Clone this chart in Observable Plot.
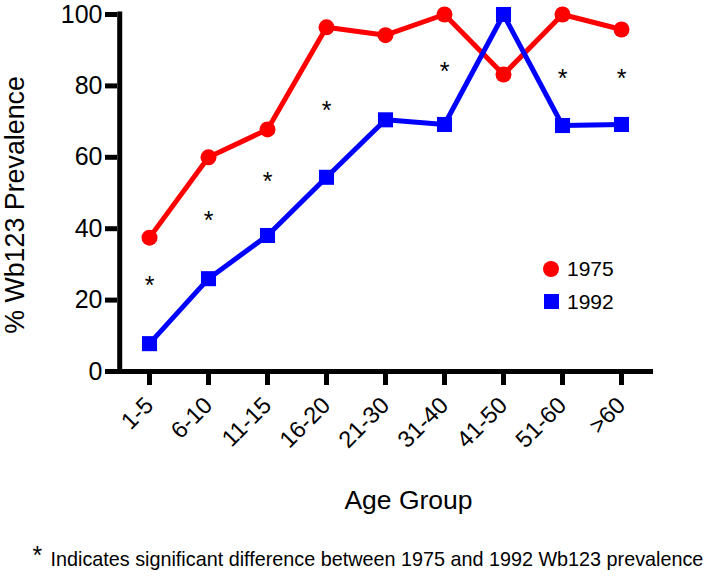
<!DOCTYPE html>
<html>
<head>
<meta charset="utf-8">
<script src="https://cdn.jsdelivr.net/npm/d3@7"></script>
<script src="https://cdn.jsdelivr.net/npm/@observablehq/plot@0.6"></script>
<style>
  html, body { margin: 0; padding: 0; background: #fff; }
  #wrap { position: relative; width: 713px; height: 581px; overflow: hidden; font-family: "Liberation Sans", Arial, Helvetica, sans-serif; }
  #legend { position: absolute; left: 540px; top: 252px; font-size: 21px; color: #000; line-height: 1; }
  #legend .row { display: flex; align-items: center; height: 33px; }
  #legend .sym { width: 22px; display: flex; justify-content: center; margin-right: 5px; }
  #legend .lg-circle { width: 16px; height: 16px; border-radius: 50%; }
  #legend .lg-square { width: 15px; height: 15px; }
</style>
</head>
<body>
<div id="wrap">
  <div id="chart"></div>
  <div id="legend"></div>
</div>
<script>
// ---- data ----
const ageGroups = ["1-5", "6-10", "11-15", "16-20", "21-30", "31-40", "41-50", "51-60", ">60"];
const prev1975 = [37.5, 60, 67.8, 96.4, 94.2, 100, 83.2, 100, 95.8];
const prev1992 = [7.8, 26, 38.1, 54.4, 70.5, 69.2, 100, 68.9, 69.2];
const sigGroups = ["1-5", "6-10", "11-15", "16-20", "31-40", "51-60", ">60"];
const sigLevel = [25.5, 43.7, 54.7, 74.7, 85.5, 83.7, 83.7];
const yTicks = [0, 20, 40, 60, 80, 100];
const seriesNames = ["1975", "1992"];
const seriesColors = ["#ff0000", "#0000ff"];
const yLabel = "% Wb123 Prevalence";
const xLabel = "Age Group";
const footnote = "Indicates significant difference between 1975 and 1992 Wb123 prevalence";

const rows1975 = ageGroups.map((g, i) => ({group: g, value: prev1975[i]}));
const rows1992 = ageGroups.map((g, i) => ({group: g, value: prev1992[i]}));
const sigRows = sigGroups.map((g, i) => ({group: g, value: sigLevel[i]}));

const font = "'Liberation Sans', Arial, Helvetica, sans-serif";
const W = 713, H = 581, mL = 117, mR = 60, mT = 14, mB = 210;
const step = (W - mL - mR) / ageGroups.length; // point-scale step (padding 0.5)

const chart = Plot.plot({
  width: W,
  height: H,
  marginLeft: mL,
  marginRight: mR,
  marginTop: mT,
  marginBottom: mB,
  style: {fontFamily: font, color: "#000", background: "#fff", overflow: "visible"},
  x: {type: "point", domain: ageGroups, padding: 0.5},
  y: {domain: [0, 100]},
  marks: [
    Plot.ruleX([ageGroups[0]], {y1: 0, y2: 100, dx: -step / 2, stroke: "#000", strokeWidth: 5, strokeLinecap: "square"}),
    Plot.ruleY([0], {stroke: "#000", strokeWidth: 5}),
    Plot.axisY({ticks: yTicks, tickSize: 12, strokeWidth: 5, fontSize: 25, tickPadding: 3, label: null}),
    Plot.axisX({tickSize: 14, strokeWidth: 5, tickRotate: -45, fontSize: 23.5, tickPadding: 16, label: null}),
    Plot.text([yLabel], {frameAnchor: "left", textAnchor: "middle", rotate: -90, dx: -102, dy: 12, fontSize: 26.8}),
    Plot.text([xLabel], {frameAnchor: "bottom", textAnchor: "middle", lineAnchor: "bottom", dy: 137, dx: 23, fontSize: 26.5}),
    Plot.text(["*"], {frameAnchor: "bottom-left", textAnchor: "start", lineAnchor: "bottom", dx: -85, dy: 192, fontSize: 25}),
    Plot.text([footnote], {frameAnchor: "bottom-left", textAnchor: "start", lineAnchor: "bottom", dx: -67, dy: 194, fontSize: 19.8}),
    Plot.text(sigRows, {x: "group", y: "value", text: () => "*", fontSize: 25, dy: 6}),
    Plot.line(rows1975, {x: "group", y: "value", stroke: seriesColors[0], strokeWidth: 5}),
    Plot.dot(rows1975, {x: "group", y: "value", r: 8, fill: seriesColors[0], symbol: "circle"}),
    Plot.line(rows1992, {x: "group", y: "value", stroke: seriesColors[1], strokeWidth: 5}),
    Plot.dot(rows1992, {x: "group", y: "value", r: 8.5, fill: seriesColors[1], symbol: "square"})
  ]
});
document.getElementById("chart").appendChild(chart);

const legend = document.getElementById("legend");
seriesNames.forEach((name, i) => {
  const row = document.createElement("div");
  row.className = "row";
  const sym = document.createElement("div");
  sym.className = "sym";
  const shape = document.createElement("div");
  shape.className = i === 0 ? "lg-circle" : "lg-square";
  shape.style.background = seriesColors[i];
  sym.appendChild(shape);
  const label = document.createElement("span");
  label.textContent = name;
  row.appendChild(sym);
  row.appendChild(label);
  legend.appendChild(row);
});
</script>
</body>
</html>
